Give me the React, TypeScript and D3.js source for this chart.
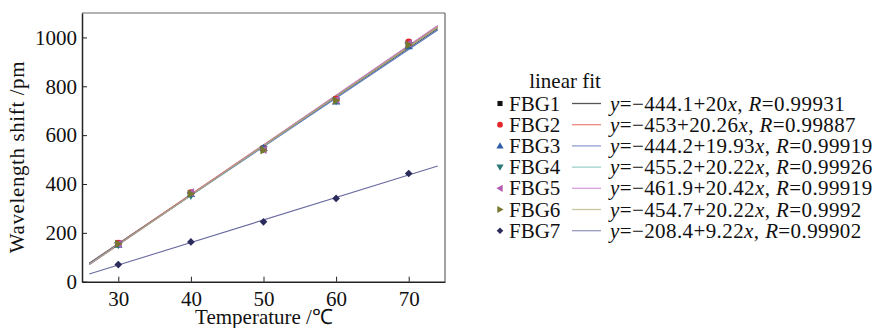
import React, { useEffect, useRef } from 'react';
import * as d3 from 'd3';

const temps = [30, 40, 50, 60, 70];
const series = ['FBG1', 'FBG2', 'FBG3', 'FBG4', 'FBG5', 'FBG6', 'FBG7'];
const fbg1 = [157, 362, 545, 745, 972];
const fbg2 = [158, 365, 545, 748, 982];
const fbg3 = [152, 360, 548, 738, 965];
const fbg4 = [150, 352, 542, 740, 968];
const fbg5 = [155, 365, 540, 745, 975];
const fbg6 = [155, 360, 538, 742, 970];
const fbg7 = [70, 163, 245, 341, 443];
const intercepts = [-444.1, -453, -444.2, -455.2, -461.9, -454.7, -208.4];
const slopes = [20, 20.26, 19.93, 20.22, 20.42, 20.22, 9.22];
const rValues = ['0.99931', '0.99887', '0.99919', '0.99926', '0.99919', '0.9992', '0.99902'];
const fitRange = [26, 74];
const xTicks = [30, 40, 50, 60, 70];
const yTicks = [0, 200, 400, 600, 800, 1000];

const markerColors = ['#111111', '#e3262a', '#2f5ea8', '#2a7a78', '#b45bb4', '#78772f', '#2c2c5c'];
const lineColors = ['#555555', '#f08a80', '#8fa0d4', '#9ed0cb', '#d8a2dc', '#cac6a2', '#9a9ac0'];
const plotLineColors = ['#404040', '#e05a50', '#5a78c0', '#6ab0aa', '#c080c8', '#a8a470', '#6a6aa0'];
const symbols = ['square', 'circle', 'up', 'down', 'left', 'right', 'diamond'];

const FONT = "'Liberation Serif', 'Times New Roman', serif";

function markerPath(kind: string, s: number): string {
  const h = s / 2;
  if (kind === 'square') return `M${-h * 0.85},${-h * 0.85}h${s * 0.85}v${s * 0.85}h${-s * 0.85}Z`;
  if (kind === 'circle') return d3.arc()({ innerRadius: 0, outerRadius: h * 0.95, startAngle: 0, endAngle: 2 * Math.PI }) as string;
  if (kind === 'up') return `M0,${-s * 0.6}L${s * 0.6},${s * 0.45}L${-s * 0.6},${s * 0.45}Z`;
  if (kind === 'down') return `M0,${s * 0.6}L${s * 0.6},${-s * 0.45}L${-s * 0.6},${-s * 0.45}Z`;
  if (kind === 'left') return `M${-s * 0.6},0L${s * 0.45},${s * 0.6}L${s * 0.45},${-s * 0.6}Z`;
  if (kind === 'right') return `M${s * 0.6},0L${-s * 0.45},${s * 0.6}L${-s * 0.45},${-s * 0.6}Z`;
  return `M0,${-h * 1.1}L${h * 1.1},0L0,${h * 1.1}L${-h * 1.1},0Z`;
}

const App = () => {
  const svgRef = useRef<SVGSVGElement>(null);

  useEffect(() => {
    const data = [fbg1, fbg2, fbg3, fbg4, fbg5, fbg6, fbg7];
    const svg = d3.select(svgRef.current);
    svg.selectAll('*').remove();

    const left = 82, right = 445, top = 13, bottom = 281.7;
    const x = d3.scaleLinear().domain([25, 75]).range([left, right]);
    const y = d3.scaleLinear().domain([0, 1100]).range([bottom, top]);

    // top and right frame
    svg.append('line').attr('x1', left).attr('x2', right).attr('y1', top).attr('y2', top)
      .attr('stroke', '#666').attr('stroke-width', 1.2);
    svg.append('line').attr('x1', right).attr('x2', right).attr('y1', top).attr('y2', bottom)
      .attr('stroke', '#666').attr('stroke-width', 1.2);

    const xAxis = svg.append('g').attr('transform', `translate(0,${bottom})`)
      .call(d3.axisBottom(x).tickValues(xTicks).tickSizeInner(-5).tickSizeOuter(0).tickPadding(10));
    const yAxis = svg.append('g').attr('transform', `translate(${left},0)`)
      .call(d3.axisLeft(y).tickValues(yTicks).tickFormat(d3.format('d')).tickSizeInner(-5).tickSizeOuter(0).tickPadding(5));
    [xAxis, yAxis].forEach(ax => {
      ax.attr('font-family', null).attr('font-size', null);
      ax.select('.domain').attr('stroke', '#222').attr('stroke-width', 1.5);
      ax.selectAll('.tick line').attr('stroke', '#222');
      ax.selectAll('text').attr('fill', '#111');
    });
    xAxis.selectAll('text').attr('dy', '0.7em');

    // fit lines
    series.forEach((_, i) => {
      const line = d3.line<number>().x(t => x(t)).y(t => y(intercepts[i] + slopes[i] * t));
      svg.append('path').datum(fitRange).attr('d', line).attr('fill', 'none')
        .attr('stroke', plotLineColors[i]).attr('stroke-width', 1.1);
    });

    // measured points
    series.forEach((_, i) => {
      svg.append('g').selectAll('path').data(data[i]).join('path')
        .attr('transform', (v, j) => `translate(${x(temps[j])},${y(v)})`)
        .attr('d', markerPath(symbols[i], 7))
        .attr('fill', markerColors[i]);
    });

    svg.append('text').attr('x', 264).attr('y', 324).attr('text-anchor', 'middle')
      .attr('fill', '#111').text('Temperature /℃');
    svg.append('text').attr('transform', 'translate(24,157) rotate(-90)').attr('text-anchor', 'middle')
      .attr('letter-spacing', 0.6).attr('fill', '#111').text('Wavelength shift /pm');

    // legend
    const lg = svg.append('g');
    lg.append('text').attr('x', 565).attr('y', 88).attr('text-anchor', 'middle')
      .attr('fill', '#111').text('linear fit');
    series.forEach((name, i) => {
      const cy = 103.5 + i * 21.2;
      lg.append('path').attr('transform', `translate(500,${cy})`)
        .attr('d', markerPath(symbols[i], 6)).attr('fill', markerColors[i]);
      lg.append('text').attr('x', 509).attr('y', cy + 7).attr('fill', '#111').text(name);
      lg.append('line').attr('x1', 572).attr('x2', 601).attr('y1', cy).attr('y2', cy)
        .attr('stroke', lineColors[i]).attr('stroke-width', 1.3);
      const t = lg.append('text').attr('x', 610).attr('y', cy + 7).attr('fill', '#111')
        .attr('letter-spacing', 0.4);
      const b = intercepts[i];
      t.append('tspan').attr('font-style', 'italic').text('y');
      t.append('tspan').text(`=−${Math.abs(b)}+${slopes[i]}`);
      t.append('tspan').attr('font-style', 'italic').text('x');
      t.append('tspan').text(', ');
      t.append('tspan').attr('font-style', 'italic').text('R');
      t.append('tspan').text(`=${rValues[i]}`);
    });
  }, []);

  return (
    <svg ref={svgRef} width={874} height={328}
      style={{ position: 'absolute', left: 0, top: 0, background: '#fff', fontFamily: FONT, fontSize: 21 }} />
  );
};

export default App;
